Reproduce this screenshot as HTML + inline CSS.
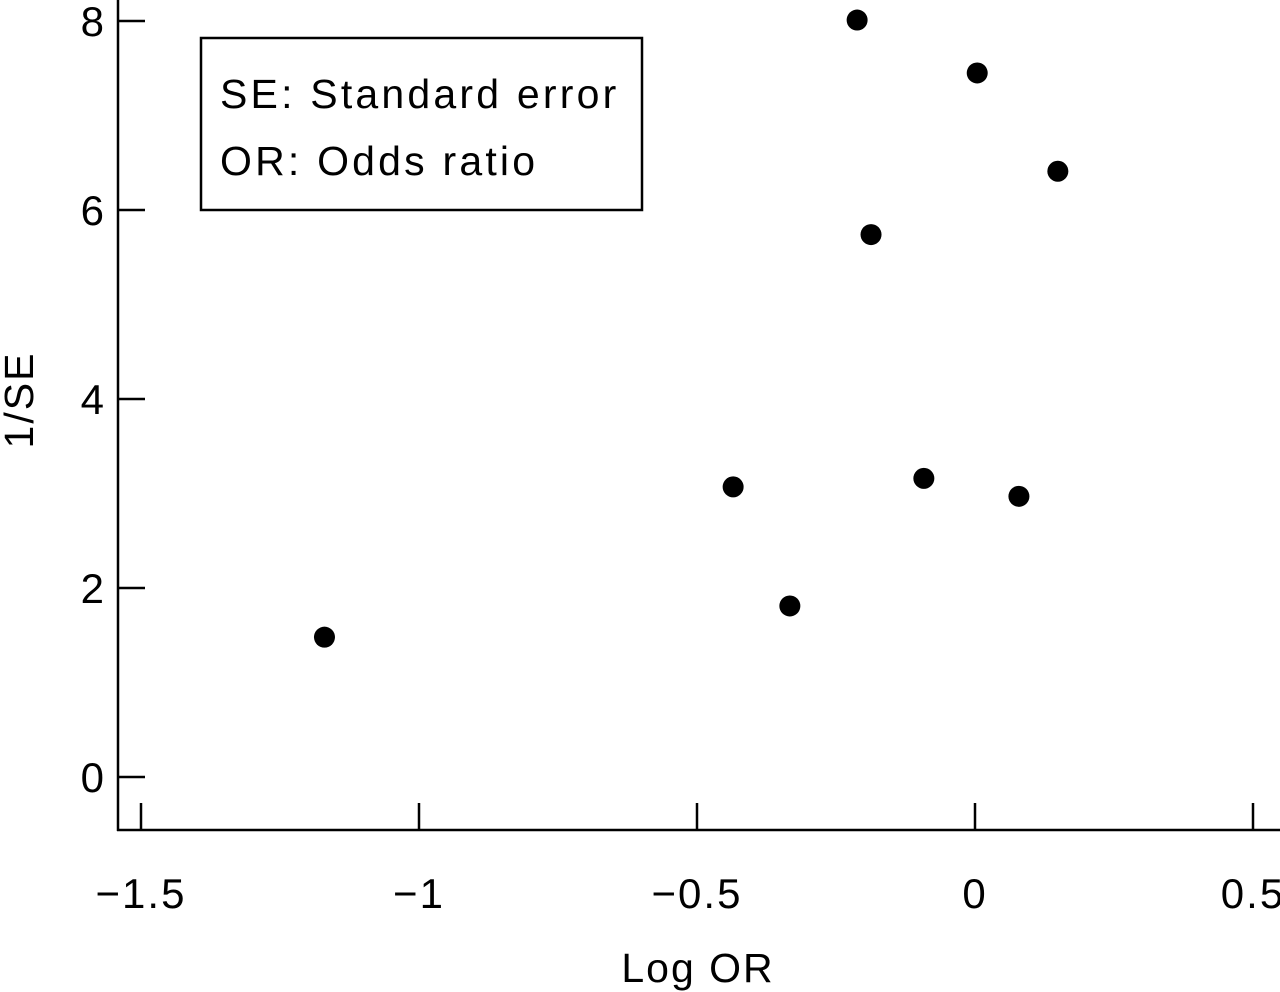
<!DOCTYPE html>
<html><head><meta charset="utf-8"><style>
html,body{margin:0;padding:0;background:#fff;}
svg{display:block;font-family:"Liberation Sans",sans-serif;}
</style></head><body>
<svg id="chart" width="1280" height="992" viewBox="0 0 1280 992">
<g id="axes"></g>
<g id="points"></g>
<g>
<rect x="201" y="38" width="441" height="172" fill="#fff" stroke="#000" stroke-width="2.5"/>
<text x="220" y="108" font-size="41" letter-spacing="3.2">SE: Standard error</text>
<text x="220" y="175" font-size="41" letter-spacing="3.2">OR: Odds ratio</text>
</g>
<text x="698" y="982" font-size="41" letter-spacing="2" text-anchor="middle">Log OR</text>
<text transform="translate(33,400) rotate(-90)" font-size="41" letter-spacing="2" text-anchor="middle">1/SE</text>
</svg>
<script>
const xValues=[-1.17,-0.435,-0.333,-0.212,-0.187,-0.092,0.004,0.079,0.149];
const yValues=[1.48,3.07,1.81,8.01,5.74,3.16,7.45,2.97,6.41];
const xTicks=[-1.5,-1,-0.5,0,0.5];
const xTickLabels=["\u22121.5","\u22121","\u22120.5","0","0.5"];
const yTicks=[0,2,4,6,8];
const yTickLabels=["0","2","4","6","8"];
const NS="http://www.w3.org/2000/svg";
function sx(v){return 975+v*556;}
function sy(v){return 777-v*94.5;}
function mk(tag,attrs,parent){const e=document.createElementNS(NS,tag);for(const k in attrs)e.setAttribute(k,attrs[k]);parent.appendChild(e);return e;}
const axes=document.getElementById('axes');
let l=mk('line',{x1:118,y1:0,x2:118,y2:831,stroke:'#000','stroke-width':2.5},axes);


l=mk('line',{x1:117,y1:830,x2:1280,y2:830,stroke:'#000','stroke-width':2.5},axes);


xTicks.forEach((t,i)=>{
 const tk=mk('line',{x1:sx(t),y1:830,x2:sx(t),y2:803,stroke:'#000','stroke-width':2.5},axes);
 
 
 const tx=mk('text',{x:sx(t),y:908,'font-size':42,'letter-spacing':2,'text-anchor':'middle'},axes);
 tx.textContent=xTickLabels[i];
 
 
});
yTicks.forEach((t,i)=>{
 const tk=mk('line',{x1:118,y1:sy(t),x2:145,y2:sy(t),stroke:'#000','stroke-width':2.5},axes);
 
 
 const tx=mk('text',{x:104,y:sy(t)+15,'font-size':42,'text-anchor':'end'},axes);
 tx.textContent=yTickLabels[i];
 
 
});
const pts=document.getElementById('points');
xValues.forEach((x,i)=>{
 const c=mk('circle',{cx:sx(x),cy:sy(yValues[i]),r:10.5,fill:'#000'},pts);
 
 
});
</script>
</body></html>
